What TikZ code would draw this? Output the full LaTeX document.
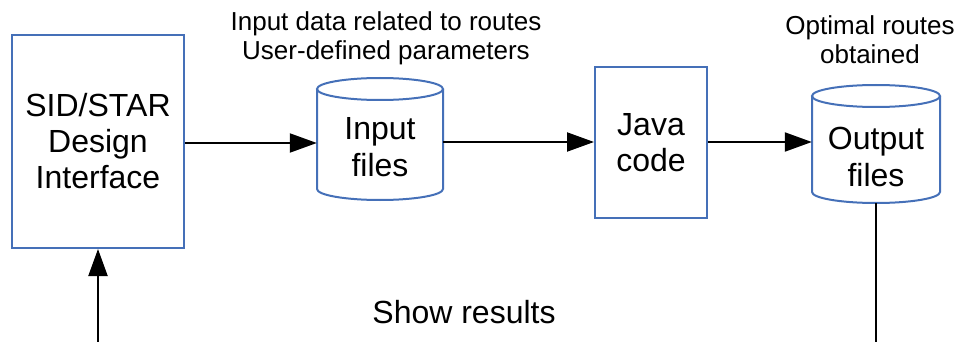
\documentclass[tikz,border=0pt]{standalone}
\usepackage{fontspec}
\setmainfont{Liberation Sans}
\usetikzlibrary{arrows.meta}
\definecolor{boxblue}{HTML}{4570B8}
\tikzset{
  x=1pt, y=-1pt,
  procbox/.style={draw=boxblue, line width=2pt, rectangle, align=center, inner sep=0pt,
    font=\fontsize{32}{36}\selectfont},
  dbtext/.style={align=center, inner sep=0pt, font=\fontsize{32}{37}\selectfont},
  lbl/.style={align=center, inner sep=0pt, font=\fontsize{26}{29}\selectfont},
  conn/.style={line width=2pt, -{Triangle[length=27pt,width=19pt]}},
  cyl/.style={draw=boxblue, line width=2pt}
}
\begin{document}
\begin{tikzpicture}
\useasboundingbox (0,0) rectangle (958,342);
% SID/STAR box
\node[procbox, minimum width=172pt, minimum height=213pt] (sid) at (98,141.5) {SID/STAR\\Design\\Interface};
% Input cylinder
\draw[cyl] (317,89) -- (317,189) arc[start angle=180,end angle=0,x radius=63,y radius=11] -- (443,89);
\draw[cyl] (380,89) ellipse[x radius=63,y radius=11];
\node[minimum width=126pt, minimum height=122pt, inner sep=0pt] (inp) at (380,139) {};
\node[dbtext] (inptxt) at (380,147) {Input\\files};
% Java box
\node[procbox, minimum width=112pt, minimum height=151pt] (java) at (651,142.5) {Java\\code};
% Output cylinder
\draw[cyl] (812,96) -- (812,192) arc[start angle=180,end angle=0,x radius=64,y radius=11] -- (940,96);
\draw[cyl] (876,96) ellipse[x radius=64,y radius=11];
\node[minimum width=128pt, minimum height=118pt, inner sep=0pt] (outp) at (876,144) {};
\node[dbtext] (outtxt) at (876,157) {Output\\files};
% labels
\node[lbl] (inlbl) at (386,38) {Input data related to routes\\User-defined parameters};
\node[lbl] (outlbl) at (870,40) {Optimal routes\\obtained};
\node[font=\fontsize{32}{36}\selectfont, inner sep=0pt] (show) at (464,312) {Show results};
% connectors
\draw[conn] (sid.east |- 0,143) -- (inp.west |- 0,143);
\draw[conn] (inp.east |- 0,142) -- (java.west |- 0,142);
\draw[conn] (java.east |- 0,142) -- (outp.west |- 0,142);
\coordinate (b1) at (876,352);
\coordinate (b2) at (98,352);
\draw[conn] (outp.south) -- (b1) -- (b2) -- (sid.south);
\end{tikzpicture}
\end{document}
